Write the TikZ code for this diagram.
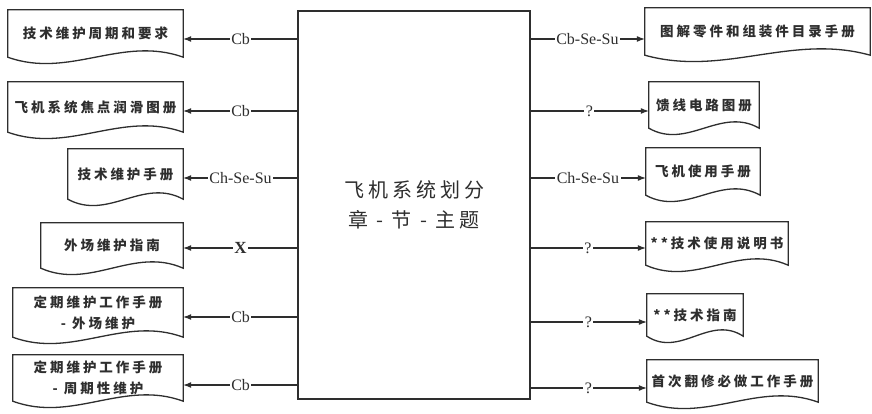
\documentclass[tikz,border=0pt]{standalone}
\usepackage{fontspec}
\setmainfont{Liberation Serif}
\newfontfamily\cjk[LetterSpace=22]{Noto Sans CJK SC}
\newfontfamily\cjkc[LetterSpace=20]{Noto Sans CJK SC}
\usetikzlibrary{calc,arrows.meta}
\definecolor{ink}{HTML}{2E2E2E}
\tikzset{
  docbox/.style={inner sep=0pt, font=\cjk\bfseries\fontsize{13.5}{21}\selectfont, text=ink, align=center},
  docline/.style={draw=ink, line width=1.3pt},
  mainbox/.style={draw=ink, line width=1.3pt, inner sep=0pt, font=\cjkc\fontsize{20}{30}\selectfont, text=ink, align=center},
  conn/.style={draw=ink, line width=1.1pt, -{Latex[length=8pt,width=6pt]}},
  lbl/.style={fill=white, inner sep=1.5pt, font=\fontsize{16}{16}\selectfont, text=ink},
}
\newcommand\docoutline[1]{\draw[docline] (#1.north west) -- (#1.north east) -- (#1.south east)
  .. controls ($(#1.south west)!0.65!(#1.south east)+(0,-22)$) and ($(#1.south west)!0.35!(#1.south east)+(0,22)$) .. (#1.south west) -- cycle;}
\begin{document}
\begin{tikzpicture}[x=1pt,y=-1pt]
\fill[white] (0,0) rectangle (872,414);
\useasboundingbox (0,0) rectangle (872,414);

% central box
\node[mainbox, minimum width=232pt, minimum height=388pt] (box) at (414,205) {飞机系统划分\\章 - 节 - 主题};

% left documents
\node[docbox, minimum width=175pt, minimum height=47pt] (l1) at (95.5,33.5) {技术维护周期和要求};
\node[docbox, minimum width=175pt, minimum height=50pt] (l2) at (95.5,107) {飞机系统焦点润滑图册};
\node[docbox, minimum width=115pt, minimum height=50pt] (l3) at (125.5,174) {技术维护手册};
\node[docbox, minimum width=142pt, minimum height=45pt] (l4) at (112,245.5) {外场维护指南};
\node[docbox, minimum width=170pt, minimum height=49pt] (l5) at (98,312.5) {定期维护工作手册\\- 外场维护};
\node[docbox, minimum width=170pt, minimum height=46pt] (l6) at (98,378) {定期维护工作手册\\- 周期性维护};

% right documents
\node[docbox, minimum width=225pt, minimum height=47pt] (r1) at (757.5,31.5) {图解零件和组装件目录手册};
\node[docbox, minimum width=110pt, minimum height=46pt] (r2) at (704,105) {馈线电路图册};
\node[docbox, minimum width=114pt, minimum height=47pt] (r3) at (703,171.5) {飞机使用手册};
\node[docbox, minimum width=142pt, minimum height=43pt] (r4) at (717,243.5) {**技术使用说明书};
\node[docbox, minimum width=96pt, minimum height=42pt] (r5) at (695,315) {**技术指南};
\node[docbox, minimum width=171pt, minimum height=42pt] (r6) at (732.5,381) {首次翻修必做工作手册};

\foreach \n in {l1,l2,l3,l4,l5,l6,r1,r2,r3,r4,r5,r6} {\docoutline{\n}}

% connector start points on the central box
\coordinate (a1) at (298,39);
\coordinate (a2) at (298,111);
\coordinate (a3) at (298,178);
\coordinate (a4) at (298,248);
\coordinate (a5) at (298,317);
\coordinate (a6) at (298,385);
\coordinate (b1) at (530,39);
\coordinate (b2) at (530,111);
\coordinate (b3) at (530,178);
\coordinate (b4) at (530,248);
\coordinate (b5) at (530,322);
\coordinate (b6) at (530,388);

\draw[conn] (a1) -- node[lbl] {Cb} (a1 -| l1.east);
\draw[conn] (a2) -- node[lbl] {Cb} (a2 -| l2.east);
\draw[conn] (a3) -- node[lbl] {Ch-Se-Su} (a3 -| l3.east);
\draw[conn] (a4) -- node[lbl, font=\bfseries\fontsize{17}{17}\selectfont] {X} (a4 -| l4.east);
\draw[conn] (a5) -- node[lbl] {Cb} (a5 -| l5.east);
\draw[conn] (a6) -- node[lbl] {Cb} (a6 -| l6.east);

\draw[conn] (b1) -- node[lbl] {Cb-Se-Su} (b1 -| r1.west);
\draw[conn] (b2) -- node[lbl] {?} (b2 -| r2.west);
\draw[conn] (b3) -- node[lbl] {Ch-Se-Su} (b3 -| r3.west);
\draw[conn] (b4) -- node[lbl] {?} (b4 -| r4.west);
\draw[conn] (b5) -- node[lbl] {?\hspace{8pt}} (b5 -| r5.west);
\draw[conn] (b6) -- node[lbl] {?\hspace{8pt}} (b6 -| r6.west);
\end{tikzpicture}
\end{document}
